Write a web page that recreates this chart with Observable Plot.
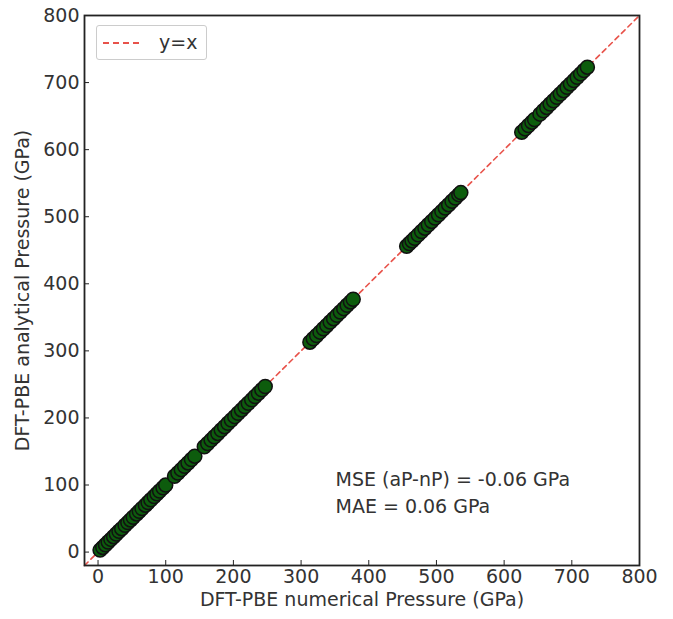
<!DOCTYPE html>
<html>
<head>
<meta charset="utf-8">
<script src="https://cdn.jsdelivr.net/npm/d3@7"></script>
<script src="https://cdn.jsdelivr.net/npm/@observablehq/plot@0.6"></script>
<style>
  html, body { margin: 0; padding: 0; background: #fff; }
  #wrap { position: relative; width: 673px; height: 619px; font-family: "DejaVu Sans", sans-serif; }
  #legend { position: absolute; left: 96px; top: 25px; width: 111px; height: 35px; border: 1px solid #ccc; border-radius: 3px; background: rgba(255,255,255,0.9); box-sizing: border-box; }
  #legend svg { position: absolute; left: 5px; top: 0; }
  #legend span { position: absolute; left: 62px; top: 5px; font-size: 19px; line-height: 22px; color: #333; }
</style>
</head>
<body>
<div id="wrap"></div>
<script>
const numericalP = [
  3, 7, 11, 15, 19, 23, 27, 31, 35, 40, 44, 48, 52, 57, 61, 65, 70, 74, 78, 83, 87, 91, 96, 100,
  113, 118, 123, 128, 133, 138, 143,
  157, 162, 167, 172, 177, 182, 187, 192, 197, 202, 207, 212, 217, 222, 227, 232, 237, 242, 247,
  313, 318, 323, 328, 333, 338, 343, 348, 353, 358, 363, 368, 373, 377,
  456, 460, 464, 468, 473, 478, 483, 488, 493, 498, 503, 508, 513, 518, 523, 528, 533, 536,
  626, 631, 636, 641, 645, 653, 658, 663, 668, 673, 678, 683, 688, 693, 698, 703, 708, 713, 718, 723
];
const analyticalP = [
  2.95, 6.93, 10.94, 14.95, 18.93, 22.94, 26.95, 30.93, 34.94, 39.95, 43.93, 47.94, 51.95, 56.93, 60.94, 64.95, 69.93, 73.94, 77.95, 82.93, 86.94, 90.95, 95.93, 99.94,
  112.95, 117.93, 122.94, 127.95, 132.93, 137.94, 142.95,
  156.93, 161.94, 166.95, 171.93, 176.94, 181.95, 186.93, 191.94, 196.95, 201.93, 206.94, 211.95, 216.93, 221.94, 226.95, 231.93, 236.94, 241.95, 246.93,
  312.94, 317.95, 322.93, 327.94, 332.95, 337.93, 342.94, 347.95, 352.93, 357.94, 362.95, 367.93, 372.94, 376.95,
  455.93, 459.94, 463.95, 467.93, 472.94, 477.95, 482.93, 487.94, 492.95, 497.93, 502.94, 507.95, 512.93, 517.94, 522.95, 527.93, 532.94, 535.95,
  625.93, 630.94, 635.95, 640.93, 644.94, 652.95, 657.93, 662.94, 667.95, 672.93, 677.94, 682.95, 687.93, 692.94, 697.95, 702.93, 707.94, 712.95, 717.93, 722.94
];
const axisDomain = [-20, 800];
const tickValues = [0, 100, 200, 300, 400, 500, 600, 700, 800];
const identityLine = [{p: -20}, {p: 800}];
const annotationLines = ["MSE (aP-nP) = -0.06 GPa", "MAE = 0.06 GPa"];
const xLabel = "DFT-PBE numerical Pressure (GPa)";
const yLabel = "DFT-PBE analytical Pressure (GPa)";
const legendLabel = "y=x";

const points = numericalP.map((n, i) => ({n, a: analyticalP[i]}));

const chart = Plot.plot({
  width: 673,
  height: 619,
  marginLeft: 84,
  marginRight: 34,
  marginTop: 15,
  marginBottom: 54,
  style: {fontFamily: "DejaVu Sans, sans-serif", fontSize: "19px", color: "#333", background: "#fff"},
  x: {domain: axisDomain},
  y: {domain: axisDomain},
  marks: [
    Plot.line(identityLine, {x: "p", y: "p", stroke: "#e8524a", strokeWidth: 1.6, strokeDasharray: "5,4"}),
    Plot.dot(points, {x: "n", y: "a", r: 7, fill: "#0d5c0d", stroke: "#111", strokeWidth: 1.5}),
    Plot.axisX(tickValues, {tickSize: 5, dy: -5, text: null, stroke: "#222", label: null}),
    Plot.axisX(tickValues, {tickSize: 0, tickPadding: 4, fontSize: 19, fill: "#333", label: null}),
    Plot.axisY(tickValues, {tickSize: 5, dx: 5, text: null, stroke: "#222", label: null}),
    Plot.axisY(tickValues, {tickSize: 0, tickPadding: 5, fontSize: 19, fill: "#333", label: null}),
    Plot.text([xLabel], {frameAnchor: "bottom", dy: 40, fontSize: 19, fill: "#333"}),
    Plot.text([yLabel], {frameAnchor: "left", dx: -62, rotate: -90, textAnchor: "middle", fontSize: 19, fill: "#333"}),
    Plot.text([annotationLines.join("\n")], {frameAnchor: "bottom-left", dx: 251, dy: -75, lineAnchor: "middle", lineHeight: 1.42, fontSize: 19, fill: "#333", textAnchor: "start"}),
    Plot.frame({stroke: "#222", strokeWidth: 1.8})
  ]
});

document.getElementById("wrap").appendChild(chart);
const legend = document.createElement("div");
legend.id = "legend";
legend.innerHTML = '<svg width="50" height="35"><line x1="1" y1="17" x2="40" y2="17" stroke="#e8524a" stroke-width="2" stroke-dasharray="6,4"/></svg><span>' + legendLabel + '</span>';
document.getElementById("wrap").appendChild(legend);
</script>
</body>
</html>
